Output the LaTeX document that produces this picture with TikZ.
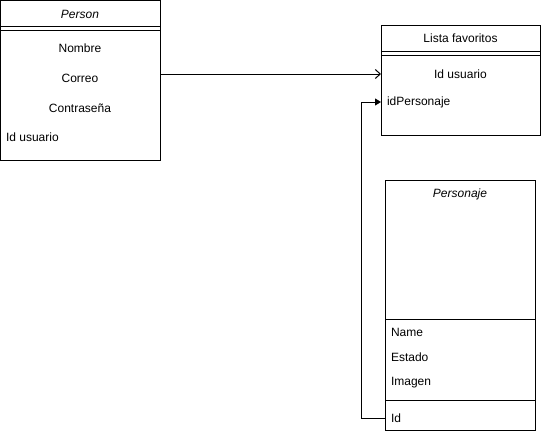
\documentclass[tikz,border=0pt]{standalone}
\usepackage{fontspec}
\setmainfont{Liberation Sans}
\usetikzlibrary{arrows.meta}
\begin{document}
\begin{tikzpicture}[x=1pt,y=-1pt,
  every node/.style={inner sep=0pt,outer sep=0pt,font=\fontsize{12}{14}\selectfont},
  classbox/.style={draw,line width=1pt,anchor=north west},
  title/.style={font=\fontsize{12}{14}\selectfont\itshape},
  field/.style={anchor=west},
  rule/.style={line width=1pt},
  link/.style={line width=1pt}]
\useasboundingbox (0,0) rectangle (541,434);

% Person class
\node[classbox,minimum width=159.5pt,minimum height=159.5pt] (person) at (0.5,0.5) {};
\draw[rule] (0.5,26) -- (160,26);
\draw[rule] (0.5,30) -- (160,30);
\node[title] (ptitle) at (80,14.5) {Person};
\node (pnombre) at (80,48) {Nombre};
\node (pcorreo) at (80,78) {Correo};
\node (pcontra) at (80,108) {Contraseña};
\node[field] (pid) at (6,137) {Id usuario};

% Lista favoritos class
\node[classbox,minimum width=159pt,minimum height=110pt] (lista) at (381,25) {};
\draw[rule] (381,51) -- (540,51);
\draw[rule] (381,55) -- (540,55);
\node (ltitle) at (460.5,38) {Lista favoritos};
\node[minimum width=159pt,minimum height=20pt] (lid) at (460.5,74) {};
\node at (lid) [yshift=-0.5pt] {Id usuario};
\node[field,minimum height=20pt] (lpers) at (381,102) {\hspace{6pt}idPersonaje};

% Personaje class
\node[classbox,minimum width=150pt,minimum height=250pt] (pj) at (385,180) {};
\draw[rule] (385,319) -- (535,319);
\draw[rule] (385,400) -- (535,400);
\node[title] (pjtitle) at (460,194) {Personaje};
\node[field] (pjname) at (391,332) {Name};
\node[field] (pjestado) at (391,357) {Estado};
\node[field] (pjimagen) at (391,383) {Imagen};
\node[field,minimum height=20pt] (pjid) at (385,418) {\hspace{6pt}Id};

% Relations
\draw[link,-{Straight Barb[length=5pt,width=9pt,line width=1pt]}]
  (person.east |- lid.west) -- (lid.west);
\draw[link,-{Triangle[length=6pt,width=7pt]}]
  (pjid.west) -- ++(-24,0) |- (lpers.west);
\end{tikzpicture}
\end{document}
